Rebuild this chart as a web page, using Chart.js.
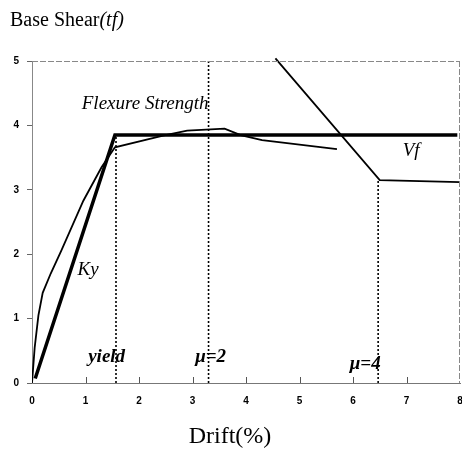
<!DOCTYPE html>
<html>
<head>
<meta charset="utf-8">
<script src="https://cdn.jsdelivr.net/npm/chart.js@4"></script>
<style>
  html, body { margin: 0; padding: 0; background: #fff; }
  #wrap { width: 462px; height: 456px; position: relative; }
</style>
</head>
<body>
<div id="wrap"><canvas id="c"></canvas></div>
<script>
  // ─── Data ───
  const xTicks = [0, 1, 2, 3, 4, 5, 6, 7, 8];
  const yTicks = [0, 1, 2, 3, 4, 5];

  // bilinear idealisation (Ky then flexure strength)
  const bilinearX = [0.06, 1.55, 7.95];
  const bilinearY = [0.07, 3.85, 3.85];

  // test envelope
  const envelopeX = [0, 0.05, 0.12, 0.2, 0.35, 0.55, 0.96, 1.3, 1.55, 2.45, 2.9, 3.6, 3.9, 4.3, 5.7];
  const envelopeY = [0, 0.55, 1.05, 1.4, 1.7, 2.06, 2.83, 3.35, 3.66, 3.84, 3.92, 3.95, 3.85, 3.77, 3.63];

  // shear strength Vf
  const shearX = [4.55, 6.5, 8];
  const shearY = [5.04, 3.15, 3.12];

  // ductility markers
  const markerX = [1.57, 3.3, 6.47];
  const markerTop = [3.85, 5, 3.15];
  const markerText = ['yield', 'μ=2', 'μ=4'];

  const toPts = (xs, ys) => xs.map((x, i) => ({ x: x, y: ys[i] }));

  const markerSets = markerX.map((x, i) => ({
    data: [{ x: x, y: 0 }, { x: x, y: markerTop[i] }],
    borderColor: '#000', borderWidth: 1.6, borderDash: [2, 2],
    pointRadius: 0, showLine: true
  }));

  const serif = '"Liberation Serif", "Times New Roman", serif';

  // ─── Text + frame plugin ───
  const decor = {
    id: 'decor',
    afterDatasetsDraw(chart) {
      const { ctx, chartArea: a, scales: { x, y } } = chart;
      ctx.save();

      // top and right frame
      ctx.strokeStyle = '#888';
      ctx.lineWidth = 1;
      ctx.setLineDash([6, 2]);
      ctx.beginPath();
      ctx.moveTo(a.left, a.top + 0.5); ctx.lineTo(a.right, a.top + 0.5);
      ctx.moveTo(a.right - 0.5, a.top); ctx.lineTo(a.right - 0.5, a.bottom);
      ctx.stroke();
      ctx.setLineDash([]);

      // inward x ticks
      ctx.strokeStyle = '#555';
      ctx.beginPath();
      xTicks.slice(1, -1).forEach(v => {
        const px = Math.round(x.getPixelForValue(v)) + 0.5;
        ctx.moveTo(px, a.bottom); ctx.lineTo(px, a.bottom - 6);
      });
      ctx.stroke();

      ctx.fillStyle = '#000';
      ctx.textBaseline = 'middle';
      ctx.textAlign = 'left';

      ctx.font = 'italic 19px ' + serif;
      ctx.fillText('Flexure Strength', x.getPixelForValue(0.93), y.getPixelForValue(4.34));
      ctx.fillText('Ky', x.getPixelForValue(0.85), y.getPixelForValue(1.76));
      ctx.fillText('Vf', x.getPixelForValue(6.93), y.getPixelForValue(3.6));

      ctx.font = 'bold italic 19px ' + serif;
      const lx = [1.05, 3.05, 5.94];
      const ly = [0.40, 0.40, 0.29];
      markerText.forEach((t, i) => ctx.fillText(t, x.getPixelForValue(lx[i]), y.getPixelForValue(ly[i])));

      // axis titles
      ctx.textBaseline = 'alphabetic';
      ctx.font = '20px ' + serif;
      ctx.fillText('Base Shear', 10, 26);
      const w = ctx.measureText('Base Shear').width;
      ctx.font = 'italic 20px ' + serif;
      ctx.fillText('(tf)', 10 + w, 26);

      ctx.textAlign = 'center';
      ctx.font = '24px ' + serif;
      ctx.fillText('Drift(%)', 230, 443);
      ctx.restore();
    }
  };

  new Chart(document.getElementById('c'), {
    type: 'scatter',
    data: {
      datasets: [
        { data: toPts(bilinearX, bilinearY), borderColor: '#000', borderWidth: 3.5, pointRadius: 0, showLine: true },
        { data: toPts(envelopeX, envelopeY), borderColor: '#000', borderWidth: 1.8, pointRadius: 0, showLine: true },
        { data: toPts(shearX, shearY), borderColor: '#000', borderWidth: 1.8, pointRadius: 0, showLine: true, clip: false },
        ...markerSets
      ]
    },
    options: {
      responsive: true, maintainAspectRatio: false, animation: false,
      layout: { padding: { top: 61, right: 2, left: 0, bottom: 0 } },
      plugins: { legend: { display: false }, tooltip: { enabled: false } },
      scales: {
        x: {
          type: 'linear', min: 0, max: 8,
          afterFit: s => { s.height = 73; s.paddingLeft = 0; s.paddingRight = 0; },
          afterBuildTicks: s => { s.ticks = xTicks.map(v => ({ value: v })); },
          ticks: { padding: 12, color: '#000', font: { family: 'Arial, "Liberation Sans", sans-serif', size: 10, weight: 'bold' } },
          grid: { drawOnChartArea: false, drawTicks: false },
          border: { color: '#777', width: 1 }
        },
        y: {
          type: 'linear', min: 0, max: 5,
          afterFit: s => { s.width = 32; s.paddingTop = 0; s.paddingBottom = 0; },
          afterBuildTicks: s => { s.ticks = yTicks.map(v => ({ value: v })); },
          ticks: { padding: 8, color: '#000', font: { family: 'Arial, "Liberation Sans", sans-serif', size: 10, weight: 'bold' } },
          grid: { drawOnChartArea: false, drawTicks: true, tickLength: 5, color: '#666' },
          border: { color: '#888', width: 1, dash: [6, 2] }
        }
      }
    },
    plugins: [decor]
  });
</script>
</body>
</html>
